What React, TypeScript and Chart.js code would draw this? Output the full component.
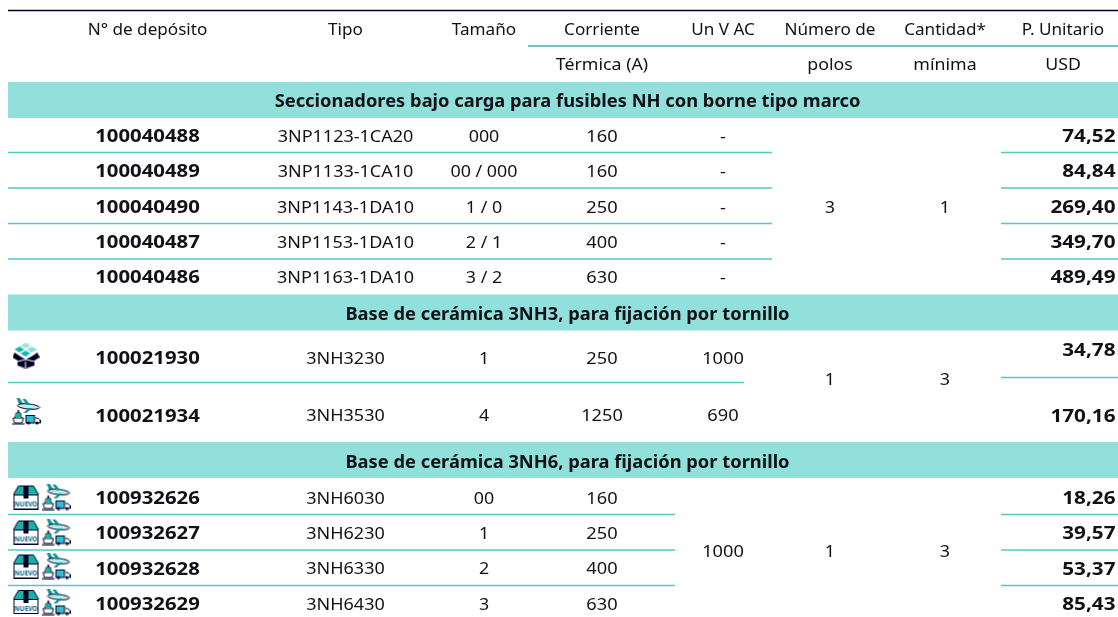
import React, { useEffect, useRef } from "react";
import { Chart, registerables } from "chart.js";

Chart.register(...registerables);

// ---------- data ----------
const headerTop = ["N° de depósito", "Tipo", "Tamaño", "Corriente", "Un V AC", "Número de", "Cantidad*", "P. Unitario"];
const headerBottom = ["", "", "", "Térmica (A)", "", "polos", "mínima", "USD"];
const sectionTitles = [
  "Seccionadores bajo carga para fusibles NH con borne tipo marco",
  "Base de cerámica 3NH3, para fijación por tornillo",
  "Base de cerámica 3NH6, para fijación por tornillo",
];
const deposits = ["100040488", "100040489", "100040490", "100040487", "100040486", "100021930", "100021934", "100932626", "100932627", "100932628", "100932629"];
const types = ["3NP1123-1CA20", "3NP1133-1CA10", "3NP1143-1DA10", "3NP1153-1DA10", "3NP1163-1DA10", "3NH3230", "3NH3530", "3NH6030", "3NH6230", "3NH6330", "3NH6430"];
const sizes = ["000", "00 / 000", "1 / 0", "2 / 1", "3 / 2", "1", "4", "00", "1", "2", "3"];
const currents = ["160", "160", "250", "400", "630", "250", "1250", "160", "250", "400", "630"];
const voltages = ["-", "-", "-", "-", "-", "1000", "690"];
const prices = ["74,52", "84,84", "269,40", "349,70", "489,49", "34,78", "170,16", "18,26", "39,57", "53,37", "85,43"];
const mergedVoltage = "1000";
const mergedPoles = ["3", "1", "1"];
const mergedQuantity = ["1", "3", "3"];

// ---------- layout (scale units = px of the sheet) ----------
const rowY = [136, 171, 207, 242, 277, 358, 415.5, 498, 533, 568.5, 604];
const priceY = [136, 171, 207, 242, 277, 350, 415.5, 498, 533, 568.5, 604];
const titleY = [101, 314, 462];
const bandCenterY = [100, 312.5, 460];
const mergedY = [207, 379, 551];
const col = { dep: 147.5, tipo: 345.5, size: 484, cur: 602, volt: 723, pol: 830, qty: 945, usdC: 1063, priceR: 1115.5 };
const ruleSegments: [number, number, number][] = [
  [8, 772, 152.5], [8, 772, 188], [8, 772, 223.5], [8, 772, 259],
  [1001, 1118, 152.5], [1001, 1118, 188], [1001, 1118, 223.5], [1001, 1118, 259],
  [8, 744, 382.5], [1001, 1118, 377.5],
  [8, 675, 514.5], [8, 675, 550], [8, 675, 585.5],
  [1001, 1118, 514.5], [1001, 1118, 550], [1001, 1118, 585.5],
];
const INK = "#000028";
const TEXT = "#111118";
const TEAL = "#52c8c4";
const HEAD_TEAL = "#48afb0";
const BAND = "#91e0db";
const FONT = '"Noto Sans"';

function mk(w: number, h: number, draw: (c: CanvasRenderingContext2D) => void) {
  const cv = document.createElement("canvas");
  cv.width = w;
  cv.height = h;
  draw(cv.getContext("2d")!);
  return cv;
}
function poly(c: CanvasRenderingContext2D, pts: number[], fill: string) {
  c.fillStyle = fill;
  c.beginPath();
  for (let i = 0; i < pts.length; i += 2) i ? c.lineTo(pts[i], pts[i + 1]) : c.moveTo(pts[i], pts[i + 1]);
  c.closePath();
  c.fill();
}
function stackIcon() {
  return mk(27, 26, (c) => {
    poly(c, [13, 0, 18, 3, 13, 6, 8, 3], "#9fe3dd");
    poly(c, [7, 4, 12, 7, 7, 10, 2, 7], "#17b5ab");
    poly(c, [19, 4, 25, 7, 19, 10, 14, 7], "#8fdcd6");
    poly(c, [13, 8, 18, 11, 13, 14, 8, 11], "#17b5ab");
    poly(c, [2, 10, 8, 14, 13, 17, 19, 14, 25, 10, 27, 15, 22, 18, 22, 23, 13, 26, 5, 23, 5, 18, 0, 15], INK);
    c.strokeStyle = "#fff";
    c.lineWidth = 1;
    c.beginPath();
    c.moveTo(13, 19);
    c.lineTo(13, 26);
    c.moveTo(5, 19);
    c.lineTo(13, 17);
    c.lineTo(22, 19);
    c.stroke();
  });
}
function boxNewIcon() {
  return mk(27, 25, (c) => {
    poly(c, [6, 1, 21, 1, 26, 10, 1, 10], "#18b0a8");
    c.strokeStyle = INK;
    c.lineWidth = 1;
    c.strokeRect(1.5, 10.5, 24, 14);
    c.beginPath();
    c.moveTo(6, 1.5);
    c.lineTo(21, 1.5);
    c.lineTo(26, 10);
    c.moveTo(6, 1.5);
    c.lineTo(1, 10);
    c.stroke();
    c.fillStyle = INK;
    c.fillRect(11, 1, 5, 13);
    c.font = '700 6.4px "Noto Sans"';
    c.textAlign = "center";
    c.fillStyle = "#0b5f8a";
    c.fillText("NUEVO", 13.5, 22);
  });
}
function transportIcon() {
  return mk(29, 27, (c) => {
    // plane
    c.strokeStyle = INK;
    c.lineWidth = 1;
    poly(c, [5, 0, 8, 0, 12, 6, 8, 7], "#0f8f99");
    c.fillStyle = "#bdeeea";
    c.beginPath();
    c.ellipse(17, 8.5, 11, 2.6, 0.1, 0, 7);
    c.fill();
    c.stroke();
    poly(c, [11, 1, 14, 1, 19, 7, 15, 7], "#0f8f99");
    poly(c, [17, 10, 21, 10, 15, 15, 12, 15], "#0f8f99");
    // ship
    c.beginPath();
    c.moveTo(1.5, 20);
    c.lineTo(12, 20);
    c.lineTo(10.5, 25);
    c.lineTo(3, 25);
    c.closePath();
    c.moveTo(3.5, 20);
    c.lineTo(4.5, 15);
    c.lineTo(9, 15);
    c.lineTo(10, 20);
    c.stroke();
    c.fillStyle = "#18b0a8";
    c.fillRect(4, 16, 5.5, 4);
    c.fillStyle = INK;
    c.fillRect(0, 25.5, 13, 1);
    c.fillRect(6, 12, 1.5, 3);
    // truck
    c.fillStyle = "#35bcd2";
    c.fillRect(14, 17, 9, 8);
    c.strokeRect(14.5, 17.5, 8.5, 7.5);
    c.beginPath();
    c.moveTo(24, 20);
    c.lineTo(26, 20);
    c.lineTo(28.5, 22);
    c.lineTo(28.5, 25);
    c.lineTo(24, 25);
    c.stroke();
    c.fillStyle = INK;
    c.beginPath();
    c.arc(17, 25, 1.6, 0, 7);
    c.fill();
    c.beginPath();
    c.arc(25.5, 25, 1.6, 0, 7);
    c.fill();
  });
}

type Cell = { t: string; x: number; y: number; bold?: boolean; align?: CanvasTextAlign; sx: number; size?: number };

function cells(): Cell[] {
  const out: Cell[] = [];
  const heads = [col.dep, col.tipo, col.size, col.cur, col.volt, col.pol, col.qty, col.usdC];
  heads.forEach((x, i) => {
    out.push({ t: headerTop[i], x, y: 29, sx: 1.07 });
    if (headerBottom[i]) out.push({ t: headerBottom[i], x, y: 64, sx: 1.11 });
  });
  sectionTitles.forEach((t, i) => out.push({ t, x: 567.5, y: titleY[i], bold: true, sx: 1.077, size: 17 }));
  deposits.forEach((d, i) => {
    out.push({ t: d, x: col.dep, y: rowY[i], bold: true, sx: 1.13, size: 18 });
    out.push({ t: types[i], x: col.tipo, y: rowY[i], sx: 1.125 });
    out.push({ t: sizes[i], x: col.size, y: rowY[i], sx: 1.115 });
    out.push({ t: currents[i], x: col.cur, y: rowY[i], sx: 1.14 });
    if (voltages[i]) out.push({ t: voltages[i], x: col.volt, y: rowY[i], sx: 1.14 });
    out.push({ t: prices[i], x: col.priceR, y: priceY[i], bold: true, align: "right", sx: 1.15, size: 18 });
  });
  out.push({ t: mergedVoltage, x: col.volt, y: mergedY[2], sx: 1.14 });
  mergedPoles.forEach((t, i) => out.push({ t, x: col.pol, y: mergedY[i], sx: 1.12 }));
  mergedQuantity.forEach((t, i) => out.push({ t, x: col.qty, y: mergedY[i], sx: 1.12 }));
  return out;
}

const tablePlugin = {
  id: "tableText",
  afterDatasetsDraw(chart: any) {
    const { ctx, scales } = chart;
    for (const c of cells()) {
      ctx.save();
      ctx.textBaseline = "middle";
      ctx.font = `${c.bold ? 700 : 400} ${c.size ?? 16}px ${FONT}`;
      ctx.textAlign = c.align ?? "center";
      ctx.fillStyle = TEXT;
      ctx.translate(scales.x.getPixelForValue(c.x), scales.y.getPixelForValue(c.y + 1));
      ctx.scale(c.sx, 1);
      ctx.fillText(c.t, 0, 0);
      ctx.restore();
    }
  },
};

export default function App() {
  const ref = useRef<HTMLCanvasElement>(null);
  useEffect(() => {
    document.body.style.margin = "0";
    const datasets: any[] = [];
    const seg = (a: number, b: number, y: number, color: string, w: number) =>
      datasets.push({
        type: "line",
        data: [{ x: a, y }, { x: b, y }],
        borderColor: color,
        borderWidth: w,
        pointRadius: 0,
        borderCapStyle: "butt",
        clip: false,
      });
    bandCenterY.forEach((y) => seg(8, 1118, y, BAND, 36));
    seg(8, 1118, 10.5, INK, 1.5);
    seg(528, 1118, 46, HEAD_TEAL, 1.5);
    ruleSegments.forEach(([a, b, y]) => seg(a, b, y, TEAL, 1.4));
    const points = (pts: [number, number][], img: HTMLCanvasElement) =>
      datasets.push({ type: "scatter", data: pts.map(([x, y]) => ({ x, y })), pointStyle: img, pointRadius: 10 });
    points([[26, 355.5]], stackIcon());
    points([[26, 497], [26, 532], [26, 566], [26, 601.5]], boxNewIcon());
    points([[56, 497], [56, 532], [56, 566], [56, 602], [26, 411.5]], transportIcon());

    const chart = new Chart(ref.current!, {
      type: "scatter",
      data: { datasets },
      options: {
        animation: false,
        responsive: false,
        layout: { padding: 0, autoPadding: false },
        plugins: { legend: { display: false }, tooltip: { enabled: false }, title: { display: false } },
        scales: {
          x: { type: "linear", min: 0, max: 1118, display: false },
          y: { type: "linear", min: 0, max: 617, reverse: true, display: false },
        },
      },
      plugins: [tablePlugin],
    });
    return () => chart.destroy();
  }, []);
  return <canvas ref={ref} width={1118} height={617} style={{ display: "block" }} />;
}
